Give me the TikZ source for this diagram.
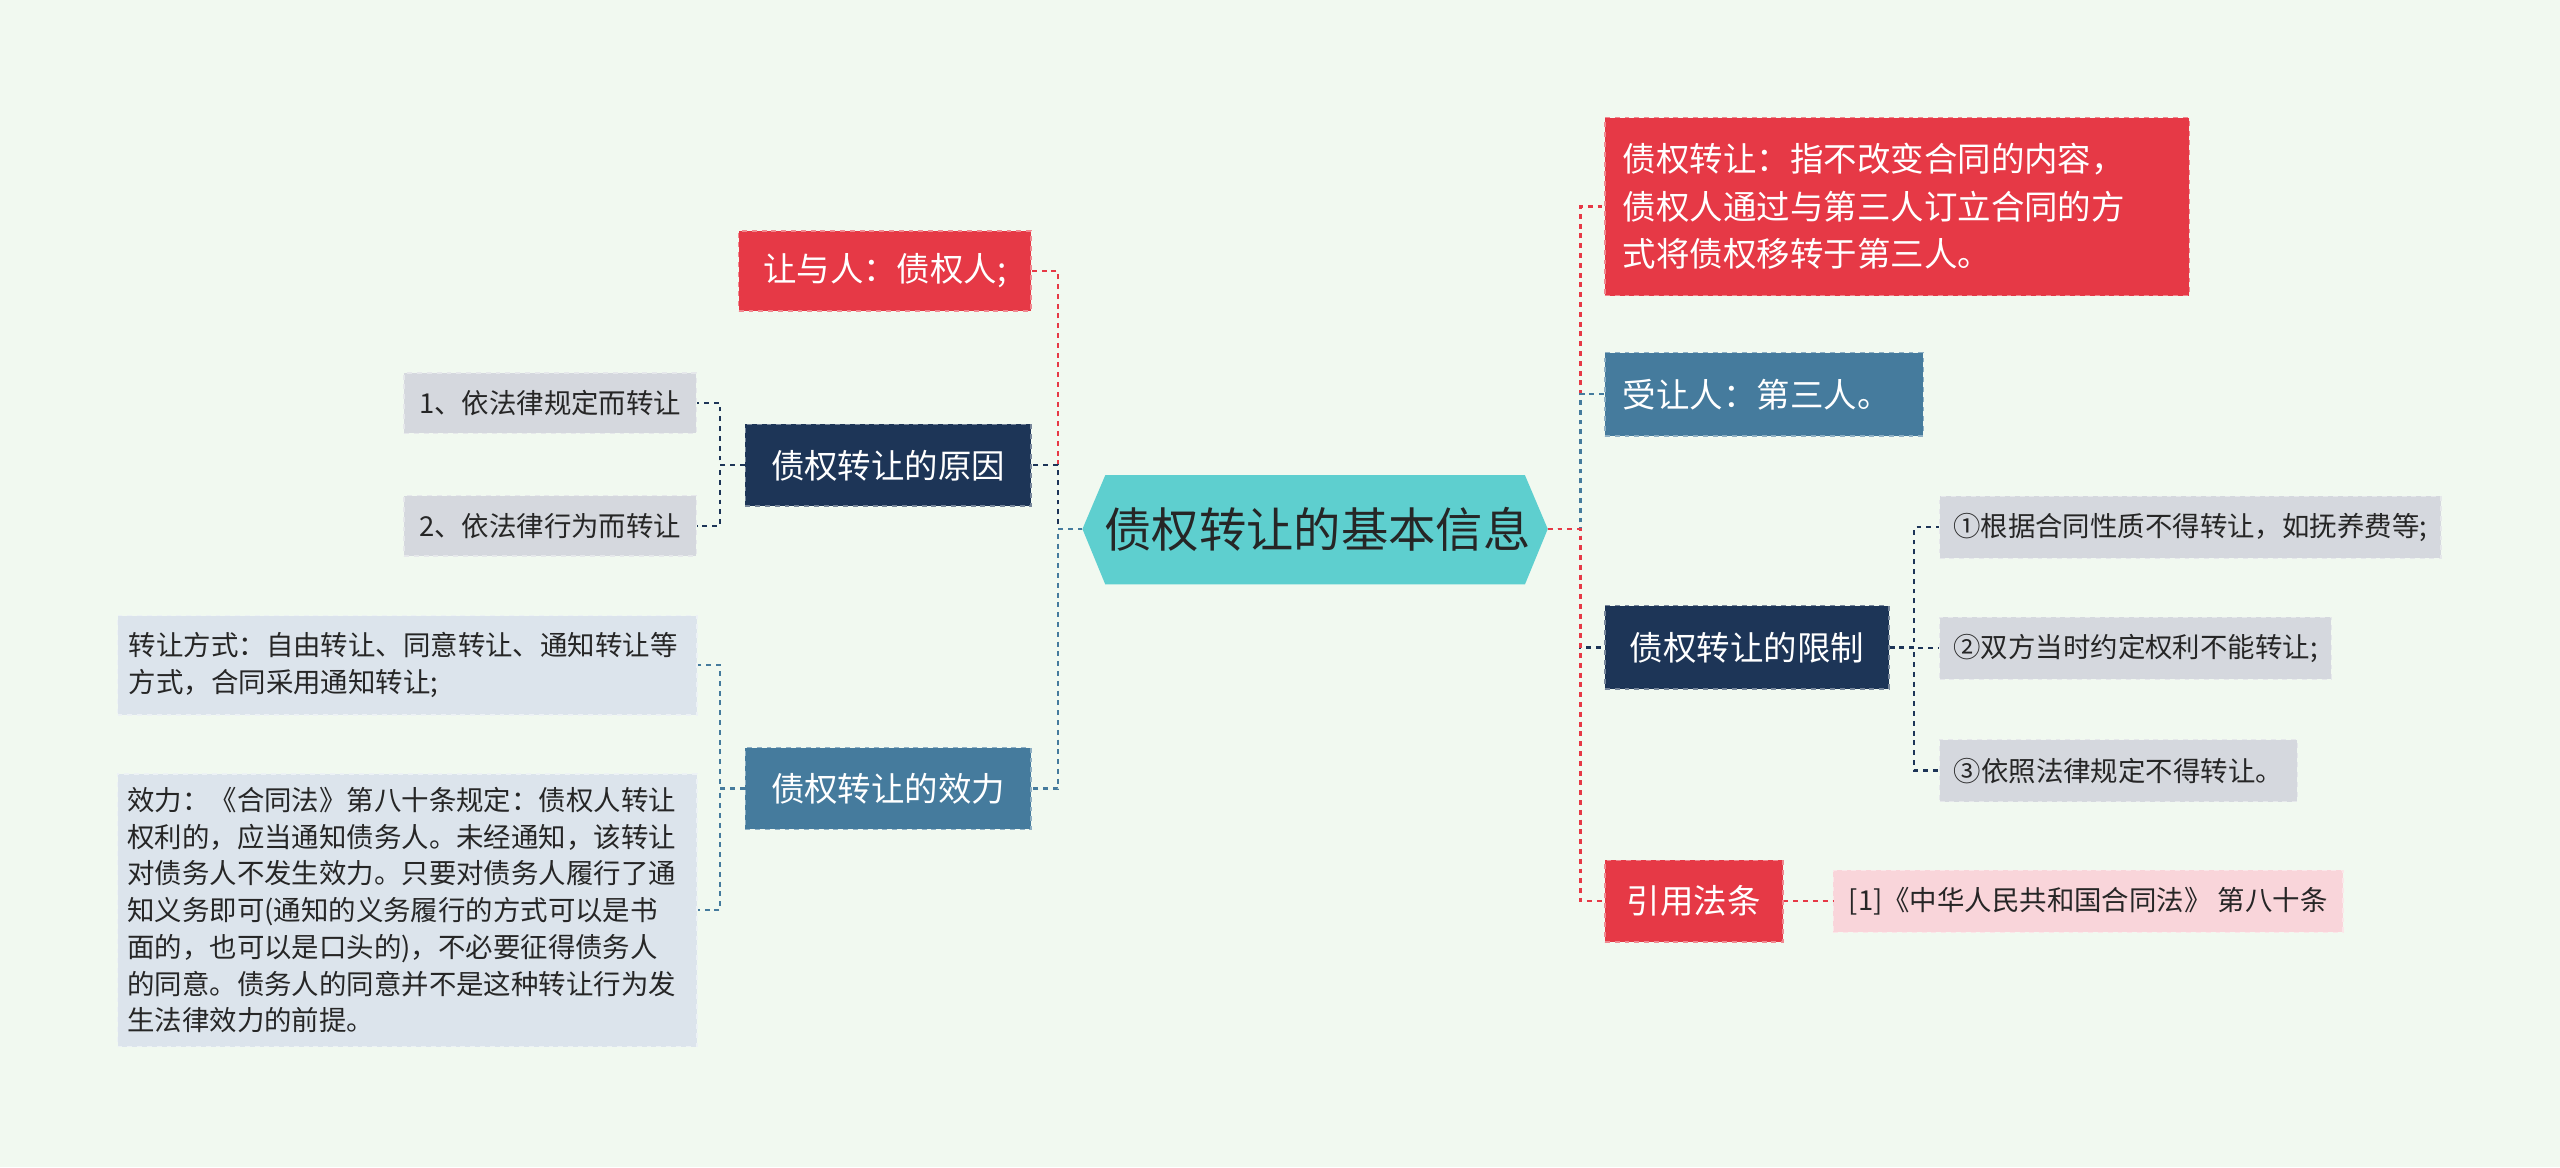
\documentclass[tikz,border=0pt]{standalone}
\usepackage{fontspec}
\setmainfont{Noto Sans CJK SC}
\usetikzlibrary{positioning}
\definecolor{bgcol}{HTML}{F1F9F0}
\definecolor{redc}{HTML}{E63946}
\definecolor{navyc}{HTML}{1D3557}
\definecolor{bluec}{HTML}{457B9D}
\definecolor{tealc}{HTML}{5ECFCF}
\definecolor{grayc}{HTML}{D5D8DE}
\definecolor{paleblue}{HTML}{DCE4EC}
\definecolor{pinkc}{HTML}{F9D5DA}
\tikzset{
  topic/.style={ % first level boxes
    rectangle, dashed, thick, text=white, inner sep=0pt,
    font=\fontsize{20.5}{29}\selectfont, align=left
  },
  redbox/.style={topic, fill=redc, draw=redc!60!white},
  navybox/.style={topic, fill=navyc, draw=navyc!60!white},
  bluebox/.style={topic, fill=bluec, draw=bluec!60!white},
  leaf/.style={ % second level boxes
    rectangle, dashed, thick, inner sep=0pt, text=black!85,
    font=\fontsize{16.8}{22.5}\selectfont, align=left
  },
  link/.style={dashed, line width=1.4}
}
\begin{document}
\begin{tikzpicture}[x=1pt,y=-1pt]
  \fill[bgcol] (0,0) rectangle (1568,715);
  \useasboundingbox (0,0) rectangle (1568,715);

  % centre
  \fill[tealc] (663,324) -- (677,291) -- (934,291) -- (948,324) -- (934,358) -- (677,358) -- cycle;
  \node[font=\fontsize{29}{32}\selectfont, text=black!85] (title) at (807,324) {债权转让的基本信息};
  \coordinate (rootw) at (663,324);
  \coordinate (roote) at (948,324);

  % left side
  \node[redbox, minimum width=179, minimum height=49] (giver) at (542,166) {让与人：债权人;};
  \node[navybox, minimum width=175, minimum height=50] (cause) at (544,285) {债权转让的原因};
  \node[bluebox, minimum width=175, minimum height=50] (effect) at (544,483) {债权转让的效力};
  \node[leaf, fill=grayc, draw=grayc!60!white, minimum width=179, minimum height=37] (cause1) at (337,247) {1、依法律规定而转让};
  \node[leaf, fill=grayc, draw=grayc!60!white, minimum width=179, minimum height=37] (cause2) at (337,322) {2、依法律行为而转让};
  \node[leaf, fill=paleblue, draw=paleblue!50!white, minimum width=355, minimum height=61, text width=341, inner xsep=7] (mode) at (249.5,407.5)
    {转让方式：自由转让、同意转让、通知转让等\\方式，合同采用通知转让;};
  \node[leaf, fill=paleblue, draw=paleblue!50!white, minimum width=355, minimum height=167, text width=343, inner xsep=6] (force) at (249.5,557.5)
    {效力：《合同法》第八十条规定：债权人转让\\权利的，应当通知债务人。未经通知，该转让\\对债务人不发生效力。只要对债务人履行了通\\知义务即可(通知的义务履行的方式可以是书\\面的，也可以是口头的)，不必要征得债务人\\的同意。债务人的同意并不是这种转让行为发\\生法律效力的前提。};

  % right side
  \node[redbox, minimum width=358, minimum height=109, text width=336, inner xsep=11] (define) at (1162,126.5)
    {债权转让：指不改变合同的内容，\\债权人通过与第三人订立合同的方\\式将债权移转于第三人。};
  \node[bluebox, minimum width=195, minimum height=51, text width=173, inner xsep=11] (taker) at (1080.5,241.5) {受让人：第三人。};
  \node[navybox, minimum width=174, minimum height=51] (limit) at (1070,396.5) {债权转让的限制};
  \node[redbox, minimum width=109, minimum height=50] (law) at (1037.5,552) {引用法条};
  \node[leaf, fill=grayc, draw=grayc!60!white, minimum width=307, minimum height=38] (limit1) at (1341.5,323) {①根据合同性质不得转让，如抚养费等;};
  \node[leaf, fill=grayc, draw=grayc!60!white, minimum width=240, minimum height=38] (limit2) at (1308,397) {②双方当时约定权利不能转让;};
  \node[leaf, fill=grayc, draw=grayc!60!white, minimum width=219, minimum height=38] (limit3) at (1297.5,472) {③依照法律规定不得转让。};
  \node[leaf, fill=pinkc, draw=pinkc!60!white, minimum width=312, minimum height=38] (ref) at (1279,552) {[1]《中华人民共和国合同法》 第八十条};

  % connectors
  \draw[link, redc] (rootw) -- ++(-15,0) |- (giver.east);
  \draw[link, navyc] (rootw) -- ++(-15,0) |- (cause.east);
  \draw[link, bluec] (rootw) -- ++(-15,0) |- (effect.east);
  \draw[link, redc] (roote) -- ++(20,0) |- (define.west);
  \draw[link, bluec] (roote) -- ++(20,0) |- (taker.west);
  \draw[link, navyc] (roote) -- ++(20,0) |- (limit.west);
  \draw[link, redc] (roote) -- ++(20,0) |- (law.west);
  \draw[link, navyc] (cause.west) -- ++(-15,0) |- (cause1.east);
  \draw[link, navyc] (cause.west) -- ++(-15,0) |- (cause2.east);
  \draw[link, bluec] (effect.west) -- ++(-15,0) |- (mode.east);
  \draw[link, bluec] (effect.west) -- ++(-15,0) |- (force.east);
  \draw[link, navyc] (limit.east) -- ++(15,0) |- (limit1.west);
  \draw[link, navyc] (limit.east) -- ++(15,0) |- (limit2.west);
  \draw[link, navyc] (limit.east) -- ++(15,0) |- (limit3.west);
  \draw[link, redc] (law.east) -- (ref.west);
\end{tikzpicture}
\end{document}
